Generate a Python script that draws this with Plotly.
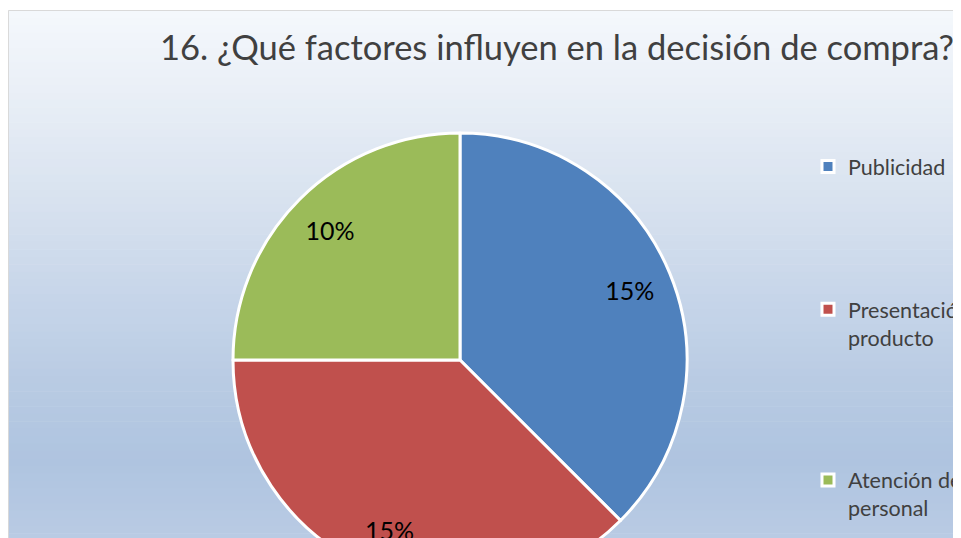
import plotly.graph_objects as go

# datos del grafico
factores = ["Publicidad", "Presentación del producto", "Atención del personal"]
valores = [15, 15, 10]
etiquetas = ["15%", "15%", "10%"]
colores = ["#4f81bd", "#c0504d", "#9bbb59"]

# la figura es mas grande que la ventana: el grafico original sale recortado
W, H = 1150, 600
OFF = 8  # margen del body de la pagina
FUENTE = "Lato"

def px_x(p):
    return (p - OFF) / W

def px_y(p):
    return 1 - (p - OFF) / H

def mezcla(c1, c2, t):
    a = [int(c1[i:i + 2], 16) for i in (1, 3, 5)]
    b = [int(c2[i:i + 2], 16) for i in (1, 3, 5)]
    return "#%02x%02x%02x" % tuple(round(a[i] + (b[i] - a[i]) * t) for i in range(3))

# degradado del fondo (px de pantalla desde arriba, color)
paradas = [(10, "#f5f8fc"), (100, "#e8eef6"), (200, "#d8e2ef"), (300, "#c6d5e9"),
           (400, "#b6c9e2"), (460, "#afc4e0"), (540, "#b9cbe4"), (620, "#c2d2e8")]

shapes = []
n = 80
for k in range(n):
    y0 = 10 + (H + OFF - 10) * k / n
    y1 = 10 + (H + OFF - 10) * (k + 1) / n
    ym = (y0 + y1) / 2
    col = paradas[-1][1]
    for (a, ca), (b, cb) in zip(paradas[:-1], paradas[1:]):
        if a <= ym <= b:
            col = mezcla(ca, cb, (ym - a) / (b - a))
            break
    shapes.append(dict(type="rect", xref="paper", yref="paper", layer="below",
                       x0=0, x1=1, y0=px_y(y1 + 0.6), y1=px_y(y0),
                       fillcolor=col, line=dict(width=0)))
shapes.append(dict(type="rect", xref="paper", yref="paper", layer="below",
                   x0=0.0004, x1=1.01, y0=-0.01, y1=px_y(10.5),
                   fillcolor="rgba(0,0,0,0)", line=dict(color="#d9d9d9", width=1)))

# texto de la leyenda con saltos para separar las entradas como en Excel
leyenda = ["Publicidad" + "<br>\u00a0" * 4,
           "Presentación del<br>producto" + "<br>\u00a0" * 4,
           "Atención del<br>personal"]

dominio = dict(x=[px_x(460 - 227), px_x(460 + 227)], y=[px_y(587), px_y(133)])

fig = go.Figure()
fig.add_trace(go.Pie(
    labels=leyenda, values=valores, textinfo="none",
    sort=False, direction="clockwise", rotation=0,
    marker=dict(colors=colores, line=dict(color="white", width=3)),
    domain=dominio, hovertext=factores, hoverinfo="text"))
# segunda capa solo para colocar las etiquetas cerca del borde, como Excel
fig.add_trace(go.Pie(
    labels=leyenda, values=valores, text=etiquetas, hole=0.62,
    textinfo="text", textposition="inside", insidetextorientation="horizontal",
    sort=False, direction="clockwise", rotation=0, showlegend=False,
    marker=dict(colors=["rgba(0,0,0,0)"] * 3, line=dict(width=0)),
    textfont=dict(family=FUENTE, size=25, color="black"),
    domain=dominio, hoverinfo="skip"))

fig.update_layout(
    width=W, height=H,
    margin=dict(l=0, r=0, t=0, b=0),
    paper_bgcolor="white",
    shapes=shapes,
    title=dict(text="16. ¿Qué factores influyen en la decisión de compra?",
               x=px_x(557), xanchor="center", y=px_y(48), yanchor="middle",
               font=dict(family=FUENTE, size=34.5, color="#404040")),
    legend=dict(x=px_x(808), xanchor="left", y=px_y(146), yanchor="top",
                valign="top", bgcolor="rgba(0,0,0,0)",
                font=dict(family=FUENTE, size=21.5, color="#404040")),
    showlegend=True)

fig.write_html("out.html")
